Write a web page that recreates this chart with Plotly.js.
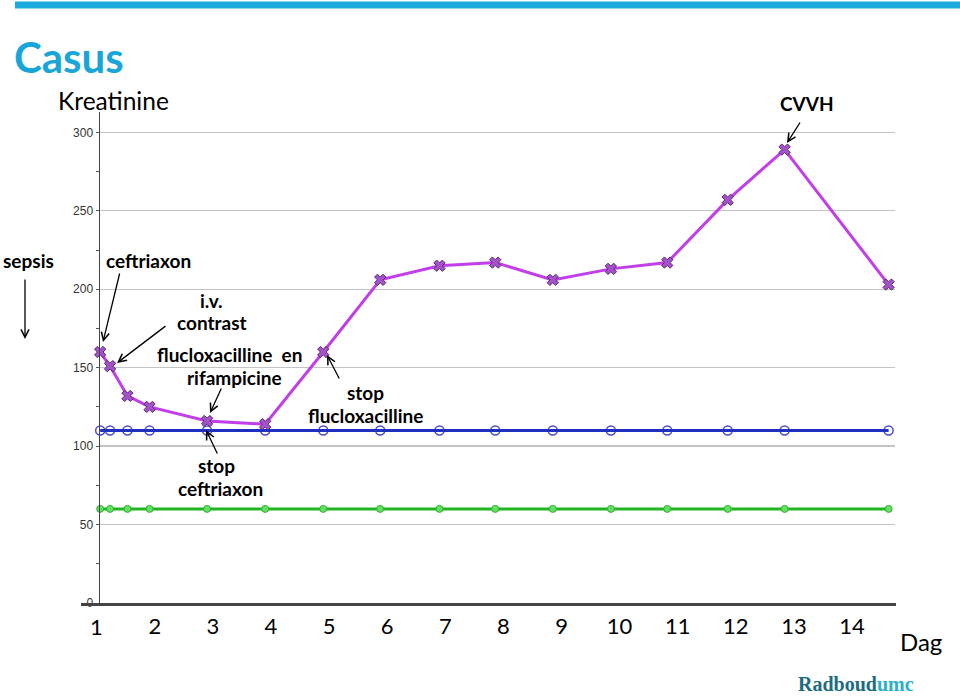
<!DOCTYPE html>
<html>
<head>
<meta charset="utf-8">
<script src="https://cdn.plot.ly/plotly-3.0.1.min.js"></script>
<style>
  html, body { margin: 0; padding: 0; background: #ffffff; }
  #chart { width: 960px; height: 697px; }
</style>
</head>
<body>
<div id="chart"></div>
<script>
// ---- data ----
// x positions in "day" units (measurement moments), y = creatinine values
const measureDay = [1.06, 1.23, 1.53, 1.91, 2.90, 3.90, 4.90, 5.88, 6.90, 7.86, 8.85, 9.85, 10.82, 11.86, 12.84, 14.63];
const kreatinine = [160, 151, 132, 125, 116, 114, 160, 206, 215, 217, 206, 213, 217, 257, 289, 203];
const upperLimit = [110, 110, 110, 110, 110, 110, 110, 110, 110, 110, 110, 110, 110, 110, 110, 110];
const lowerLimit = [60, 60, 60, 60, 60, 60, 60, 60, 60, 60, 60, 60, 60, 60, 60, 60];
const dayTicks = [1, 2, 3, 4, 5, 6, 7, 8, 9, 10, 11, 12, 13, 14];
const dayLabels = ["1", "2", "3", "4", "5", "6", "7", "8", "9", "10", "11", "12", "13", "14"];
const yTicks = [0, 50, 100, 150, 200, 250, 300];

// ---- layout geometry ----
const L = 100, R = 895, T = 112, B = 603;
const W = R - L, H = B - T;
const px = x => (x - L) / W;
const py = y => (B - y) / H;
const xRange = [1.057, 14.74];
const dayToPaper = d => (d - xRange[0]) / (xRange[1] - xRange[0]);

const calibri = "Lato, 'Open Sans', sans-serif";
const dayFont = { family: calibri, size: 22, color: "#000000" };

const traces = [
  { x: measureDay, y: lowerLimit, type: "scatter", mode: "lines+markers", cliponaxis: false,
    line: { color: "#22b522", width: 3 },
    marker: { symbol: "circle", size: 7, color: "#66dd66", line: { color: "#2fb52f", width: 1 } },
    hoverinfo: "skip" },
  { x: measureDay, y: upperLimit, type: "scatter", mode: "markers", cliponaxis: false,
    marker: { symbol: "circle-open", size: 9, color: "#4a4ad8", line: { color: "#4a4ad8", width: 1.5 } },
    hoverinfo: "skip" },
  { x: measureDay, y: upperLimit, type: "scatter", mode: "lines", cliponaxis: false,
    line: { color: "#1f2fbf", width: 3 }, hoverinfo: "skip" },
  { x: measureDay, y: kreatinine, type: "scatter", mode: "lines+markers", cliponaxis: false,
    line: { color: "#c13ee8", width: 3 },
    marker: { symbol: "x", size: 10, color: "#a452c8", line: { color: "#5e2a78", width: 1 } },
    hoverinfo: "skip" }
];

const FS = 19;
function txt(text, x, y, size, opts) {
  return Object.assign({
    text: text, xref: "paper", yref: "paper", x: px(x), y: py(y),
    xanchor: "center", yanchor: "middle", showarrow: false,
    font: { family: calibri, size: size, color: "#000000", weight: "bold" }
  }, opts || {});
}
function arrow(tailX, tailY, tipX, tipY) {
  return {
    text: "", xref: "paper", yref: "paper", x: px(tipX), y: py(tipY),
    ax: tailX - tipX, ay: tailY - tipY, showarrow: true,
    arrowhead: 5, arrowsize: 1.2, arrowwidth: 1.3, arrowcolor: "#000000", standoff: 0, startstandoff: 0
  };
}

const annotations = [
  txt("Casus", 69, 57, 42, { font: { family: calibri, size: 42, color: "#18a6da", weight: "bold" } }),
  txt("Kreatinine", 113, 101, 24.5, { font: { family: calibri, size: 24.5, color: "#000000" } }),
  txt("sepsis", 28, 260, FS),
  arrow(25, 278, 25, 339),
  txt("ceftriaxon", 148, 260, FS),
  arrow(120, 272, 103, 342),
  txt("i.v.", 211, 300, FS),
  txt("contrast", 212, 322, FS),
  arrow(167, 325, 117, 363),
  txt("flucloxacilline  en", 229, 354, FS),
  txt("rifampicine", 234, 378, FS),
  arrow(222, 387, 210, 413),
  txt("stop", 216, 465, FS),
  txt("ceftriaxon", 220, 488, FS),
  arrow(218, 455, 206, 430),
  txt("stop", 365, 392, FS),
  txt("flucloxacilline", 365, 415, FS),
  arrow(340, 380, 327, 355),
  txt("CVVH", 807, 103, FS),
  arrow(801, 121, 787, 143),
  // first day label lies just left of the plotted range
  { text: dayLabels[0], xref: "paper", yref: "paper", x: dayToPaper(dayTicks[0]), y: py(626),
    xanchor: "center", yanchor: "middle", showarrow: false, font: dayFont },
  txt("Dag", 921, 641, 24, { font: { family: calibri, size: 24, color: "#000000" } }),
  txt('<span style="color:#1d6c80">Radboud</span><span style="color:#2bb0c9">umc</span>', 856, 684, 20,
      { font: { family: "'Liberation Serif', 'DejaVu Serif', serif", size: 20, color: "#1d6c80", weight: "bold" } })
];

const shapes = [
  // top rule
  { type: "rect", xref: "paper", yref: "paper", x0: px(15), x1: px(960), y0: py(8.5), y1: py(1.5),
    fillcolor: "#1aaadb", line: { width: 0 } },
  // base line of the chart (extends left of the y axis)
  { type: "line", xref: "paper", yref: "paper", x0: px(81), x1: px(896), y0: py(604.5), y1: py(604.5),
    line: { color: "#444444", width: 3 } }
];

const layout = {
  width: 960, height: 697,
  margin: { l: L, r: 960 - R, t: T, b: 697 - B, pad: 0 },
  paper_bgcolor: "#ffffff", plot_bgcolor: "#ffffff",
  showlegend: false,
  xaxis: {
    range: xRange, tickvals: dayTicks, ticktext: dayLabels,
    showgrid: false, zeroline: false, showline: false, ticks: "",
    ticklabelstandoff: 8,
    tickfont: dayFont
  },
  yaxis: {
    range: [0, 313], tickvals: yTicks, ticktext: yTicks.map(String),
    showgrid: true, gridcolor: "#c4c4c4", gridwidth: 1.3, zeroline: false,
    showline: true, linecolor: "#444444", linewidth: 1.5,
    ticks: "outside", ticklen: 3, tickcolor: "#555555",
    minor: { dtick: 25, tick0: 0, ticks: "outside", ticklen: 3, tickcolor: "#555555", showgrid: false },
    tickfont: { family: "'Liberation Sans', Arial, sans-serif", size: 12, color: "#333333" }
  },
  annotations: annotations,
  shapes: shapes
};

Plotly.newPlot("chart", traces, layout, { displayModeBar: false, staticPlot: true });
</script>
</body>
</html>
